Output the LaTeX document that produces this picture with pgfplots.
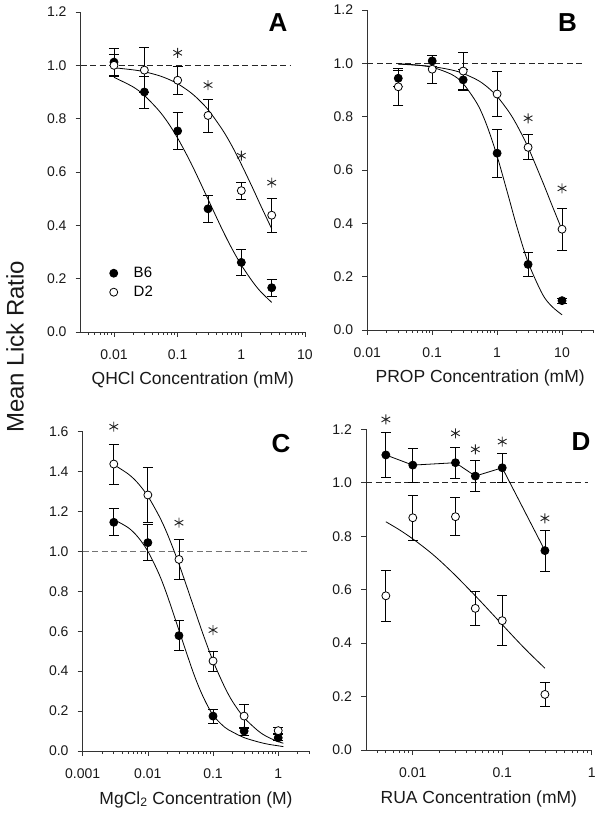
\documentclass[border=0pt]{standalone}
\usepackage{fontspec}
\setmainfont{Liberation Sans}
\usepackage{pgfplots}
\usepackage{pgfplotstable}
\pgfplotsset{compat=1.18}

% Panel A (QHCl)
\pgfplotstableread{
x y e
0.01 1.012 0.05
0.03 0.900 0.06
0.1 0.754 0.07
0.3 0.462 0.052
1 0.261 0.05
3 0.166 0.031
}\AbB
\pgfplotstableread{
x y e
0.01 1.000 0.04
0.03 0.982 0.085
0.1 0.944 0.053
0.3 0.812 0.062
1 0.530 0.032
3 0.438 0.063
}\AdD
% Panel B (PROP)
\pgfplotstableread{
x y e
0.03 0.944 0.03
0.1 1.009 0.022
0.3 0.938 0.04
1 0.663 0.09
3 0.246 0.045
10 0.110 0.01
}\BbB
\pgfplotstableread{
x y e
0.03 0.912 0.07
0.1 0.978 0.053
0.3 0.971 0.07
1 0.885 0.085
3 0.685 0.047
10 0.378 0.079
}\BdD
% Panel C (MgCl2)
\pgfplotstableread{
x y e
0.003 1.146 0.068
0.01 1.044 0.09
0.03 0.578 0.074
0.1 0.175 0.035
0.3 0.100 0.02
1 0.066 0.015
}\CbB
\pgfplotstableread{
x y e
0.003 1.438 0.10
0.01 1.283 0.14
0.03 0.960 0.10
0.1 0.451 0.05
0.3 0.175 0.06
1 0.102 0.015
}\CdD
% Panel D (RUA)
\pgfplotstableread{
x y e
0.005 1.104 0.085
0.01 1.066 0.063
0.03 1.075 0.058
0.05 1.025 0.058
0.1 1.056 0.055
0.3 0.746 0.076
}\DbB
\pgfplotstableread{
x y e
0.005 0.577 0.095
0.01 0.869 0.083
0.03 0.873 0.071
0.05 0.530 0.065
0.1 0.484 0.094
0.3 0.208 0.044
}\DdD

\pgfplotsset{
  every axis/.append style={
    scale only axis, ymin=0, axis lines=left,
    axis line style={-, black!80, line width=0.8pt},
    tick align=outside, major tick length=5pt, minor tick length=3pt,
    tick style={black!80, line width=0.7pt},
    clip=false,
    xticklabel style={font=\fontsize{14}{14}\selectfont, text=black!90, anchor=center, yshift=-18pt, inner sep=0pt},
    yticklabel style={font=\fontsize{14}{14}\selectfont, text=black!90, anchor=east, xshift=-9pt, inner sep=0pt},
    xlabel style={font=\fontsize{17.5}{17.5}\selectfont, text=black!90, at={(axis description cs:0.5,0)}, anchor=base, yshift=-53pt, inner sep=0pt},
  },
  myeb/.style={forget plot, only marks, mark=none, black, line width=0.8pt,
    error bars/.cd, y dir=both, y explicit, error mark=-,
    error bar style={black, line width=0.8pt},
    error mark options={black, rotate=90, mark size=5pt, line width=0.8pt}},
  myfit/.style={forget plot, black, line width=0.8pt, mark=none, smooth},
  myb/.style={only marks, mark=*, mark size=4pt, mark options={draw=black, fill=black, line width=0.8pt}},
  myd/.style={only marks, mark=*, mark size=4pt, mark options={draw=black, fill=white, line width=0.8pt}},
  mystar/.style={forget plot, only marks, mark=asterisk, mark size=5pt, mark options={black!85, line width=0.9pt}},
  myref/.style={forget plot, black!85, line width=0.8pt, dash pattern=on 6pt off 3.5pt},
}

\begin{document}
\begin{tikzpicture}
\path[use as bounding box] (0,0) rectangle (600pt,816pt);

% ---------------- Panel A ----------------
\begin{axis}[xmode=log, at={(80.7pt,484pt)}, anchor=south west,
  width=224.3pt, height=320pt,
  xmin=0.003, xmax=10, ymax=1.2,
  xtick={0.01,0.1,1,10}, xticklabels={0.01,0.1,1,10},
  minor xtick={0.004,0.005,0.006,0.007,0.008,0.009,0.02,0.03,0.04,0.05,0.06,0.07,0.08,0.09,0.2,0.3,0.4,0.5,0.6,0.7,0.8,0.9,2,3,4,5,6,7,8,9},
  ytick={0,0.2,0.4,0.6,0.8,1.0,1.2}, yticklabels={0.0,0.2,0.4,0.6,0.8,1.0,1.2},
  xlabel={QHCl Concentration (mM)},
  legend style={draw=none, fill=none, at={(0.113,0.154)}, anchor=west,
    font=\fontsize{15}{15}\selectfont, row sep=3pt},
  legend cell align=left,
  legend image code/.code={\draw[#1] plot coordinates {(0pt,0pt)}; \path[draw=none, fill=none] (-4.5pt,-4pt) rectangle (18pt,4pt);},
]
\addplot[myref] coordinates {(0.003,1) (6,1)};
\addplot[myeb] table[x=x,y=y,y error=e] {\AbB};
\addplot[myeb] table[x=x,y=y,y error=e] {\AdD};
\addplot[myfit] coordinates {(0.01,0.955)(0.02,0.919)(0.03,0.887)(0.05,0.832)(0.07,0.786)(0.1,0.727)(0.15,0.649)(0.2,0.588)(0.3,0.498)(0.5,0.385)(0.7,0.316)(1,0.251)(1.5,0.189)(2,0.152)(3,0.111)};
\addplot[myfit] coordinates {(0.01,0.991)(0.02,0.983)(0.03,0.976)(0.05,0.962)(0.07,0.949)(0.1,0.931)(0.15,0.903)(0.2,0.878)(0.3,0.834)(0.5,0.760)(0.7,0.701)(1,0.629)(1.5,0.541)(2,0.476)(3,0.387)};
\addplot[myb] table[x=x,y=y] {\AbB};
\addlegendentry{B6}
\addplot[myd] table[x=x,y=y] {\AdD};
\addlegendentry{D2}
\addplot[mystar] coordinates {(0.1,1.047)(0.3,0.926)(1,0.661)(3,0.56)};
\end{axis}

% ---------------- Panel B ----------------
\begin{axis}[xmode=log, at={(367.3pt,486pt)}, anchor=south west,
  width=225.7pt, height=320pt,
  xmin=0.01, xmax=30, ymax=1.2,
  xtick={0.01,0.1,1,10}, xticklabels={0.01,0.1,1,10},
  minor xtick={0.02,0.03,0.04,0.05,0.06,0.07,0.08,0.09,0.2,0.3,0.4,0.5,0.6,0.7,0.8,0.9,2,3,4,5,6,7,8,9,20,30},
  ytick={0,0.2,0.4,0.6,0.8,1.0,1.2}, yticklabels={0.0,0.2,0.4,0.6,0.8,1.0,1.2},
  xlabel={PROP Concentration (mM)},
]
\addplot[myref] coordinates {(0.01,1) (20,1)};
\addplot[myeb] table[x=x,y=y,y error=e] {\BbB};
\addplot[myeb] table[x=x,y=y,y error=e] {\BdD};
\addplot[myfit] coordinates {(0.03,0.998)(0.05,0.995)(0.1,0.985)(0.2,0.958)(0.3,0.924)(0.5,0.846)(0.7,0.765)(1,0.652)(1.5,0.5)(2,0.39)(3,0.254)(5,0.134)(7,0.088)(10,0.057)};
\addplot[myfit] coordinates {(0.03,0.997)(0.05,0.994)(0.1,0.988)(0.2,0.975)(0.3,0.962)(0.5,0.937)(0.7,0.912)(1,0.876)(1.5,0.820)(2,0.770)(3,0.685)(5,0.557)(7,0.468)(10,0.375)};
\addplot[myb, forget plot] table[x=x,y=y] {\BbB};
\addplot[myd, forget plot] table[x=x,y=y] {\BdD};
\addplot[mystar] coordinates {(3,0.794)(10,0.531)};
\end{axis}

% ---------------- Panel C ----------------
\begin{axis}[xmode=log, at={(82.7pt,65pt)}, anchor=south west,
  width=226.6pt, height=319.3pt,
  xmin=0.001, xmax=3, ymax=1.6,
  xtick={0.001,0.01,0.1,1}, xticklabels={0.001,0.01,0.1,1},
  minor xtick={0.002,0.003,0.004,0.005,0.006,0.007,0.008,0.009,0.02,0.03,0.04,0.05,0.06,0.07,0.08,0.09,0.2,0.3,0.4,0.5,0.6,0.7,0.8,0.9,2,3},
  ytick={0,0.2,0.4,0.6,0.8,1.0,1.2,1.4,1.6}, yticklabels={0.0,0.2,0.4,0.6,0.8,1.0,1.2,1.4,1.6},
  xlabel={MgCl\textsubscript{2} Concentration (M)},
]
\addplot[myref, black!55] coordinates {(0.001,1) (3,1)};
\addplot[myeb] table[x=x,y=y,y error=e] {\CbB};
\addplot[myeb] table[x=x,y=y,y error=e] {\CdD};
\addplot[myfit] coordinates {(0.003,1.160)(0.005,1.119)(0.007,1.073)(0.01,1.001)(0.015,0.883)(0.02,0.776)(0.03,0.605)(0.05,0.391)(0.07,0.274)(0.1,0.180)(0.15,0.12)(0.2,0.095)(0.3,0.067)(0.5,0.045)(0.7,0.034)(1,0.026)(1.2,0.022)};
\addplot[myfit] coordinates {(0.003,1.435)(0.005,1.388)(0.007,1.343)(0.01,1.277)(0.015,1.175)(0.02,1.086)(0.03,0.937)(0.05,0.726)(0.07,0.587)(0.1,0.451)(0.15,0.322)(0.2,0.247)(0.3,0.167)(0.5,0.099)(0.7,0.069)(1,0.047)(1.2,0.039)};
\addplot[myb, forget plot] table[x=x,y=y] {\CbB};
\addplot[myd, forget plot] table[x=x,y=y] {\CdD};
\addplot[mystar] coordinates {(0.003,1.625)(0.03,1.144)(0.1,0.606)};
\end{axis}

% ---------------- Panel D ----------------
\begin{axis}[xmode=log, at={(366pt,66pt)}, anchor=south west,
  width=225.7pt, height=320.7pt,
  xmin=0.003, xmax=1, ymax=1.2,
  xtick={0.01,0.1,1}, xticklabels={0.01,0.1,1},
  minor xtick={0.004,0.005,0.006,0.007,0.008,0.009,0.02,0.03,0.04,0.05,0.06,0.07,0.08,0.09,0.2,0.3,0.4,0.5,0.6,0.7,0.8,0.9},
  ytick={0,0.2,0.4,0.6,0.8,1.0,1.2}, yticklabels={0.0,0.2,0.4,0.6,0.8,1.0,1.2},
  xlabel={RUA Concentration (mM)},
]
\addplot[myref] coordinates {(0.003,1) (0.9,1)};
\addplot[myeb] table[x=x,y=y,y error=e] {\DbB};
\addplot[myeb] table[x=x,y=y,y error=e] {\DdD};
\addplot[forget plot, black, line width=0.8pt, mark=none] table[x=x,y=y] {\DbB};
\addplot[myfit] coordinates {(0.005,0.854)(0.007,0.825)(0.01,0.790)(0.015,0.745)(0.02,0.709)(0.03,0.653)(0.05,0.577)(0.07,0.525)(0.1,0.469)(0.15,0.406)(0.2,0.363)(0.3,0.306)};
\addplot[myb, forget plot] table[x=x,y=y] {\DbB};
\addplot[myd, forget plot] table[x=x,y=y] {\DdD};
\addplot[mystar] coordinates {(0.005,1.237)(0.03,1.185)(0.05,1.125)(0.1,1.154)(0.3,0.867)};
\end{axis}

% Panel letters and common y label
\node[font=\fontsize{26}{26}\selectfont\bfseries] at (278pt,793.5pt) {A};
\node[font=\fontsize{26}{26}\selectfont\bfseries] at (567.5pt,793.5pt) {B};
\node[font=\fontsize{26}{26}\selectfont\bfseries] at (281pt,372pt) {C};
\node[font=\fontsize{26}{26}\selectfont\bfseries] at (581pt,374.5pt) {D};
\node[rotate=90, font=\fontsize{24}{24}\selectfont, text=black!90] at (15pt,469.3pt) {Mean Lick Ratio};
\end{tikzpicture}
\end{document}
